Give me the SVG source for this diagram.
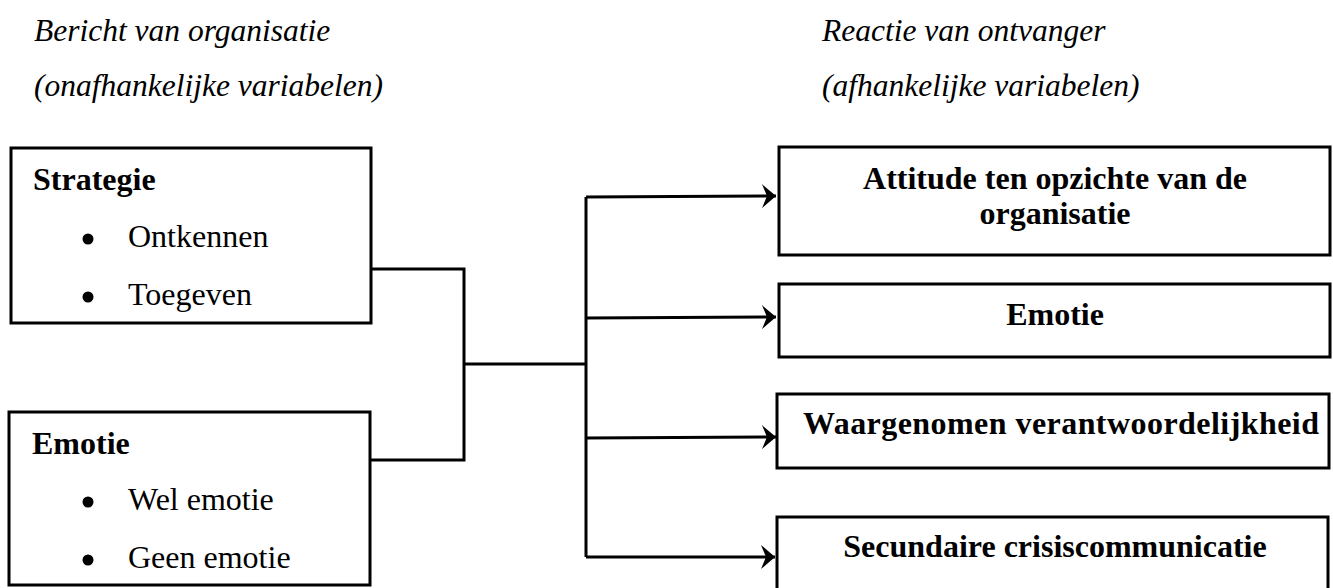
<svg xmlns="http://www.w3.org/2000/svg" width="1333" height="588" viewBox="0 0 1333 588">
<defs>
<style>
.box{fill:#fff;stroke:#000;stroke-width:3}
.t{font-family:"Liberation Serif","Times New Roman",serif;font-size:32px;fill:#000}
.b{font-weight:bold}
.i{font-style:italic;font-size:31.5px}
.c{text-anchor:middle}
.ln{fill:none;stroke:#000;stroke-width:3}
</style>
<marker id="ah" markerUnits="userSpaceOnUse" markerWidth="18" markerHeight="28" refX="15" refY="14" orient="auto">
<path d="M1,2 L15,14 L1,26 L6,14 Z" fill="#000"/>
</marker>
</defs>
<rect width="1333" height="588" fill="#fff"/>
<g id="titles">
<text class="t i" x="34" y="41">Bericht van organisatie</text>
<text class="t i" x="34" y="96">(onafhankelijke variabelen)</text>
<text class="t i" x="822" y="41">Reactie van ontvanger</text>
<text class="t i" x="822" y="96">(afhankelijke variabelen)</text>
</g>
<g id="connectors">
<polyline class="ln" points="371,269 464,269 464,460 370,460"/>
<line class="ln" x1="464" y1="364" x2="586" y2="364"/>
<line class="ln" x1="586" y1="197" x2="586" y2="557"/>
<line class="ln" x1="586" y1="197" x2="776" y2="196" marker-end="url(#ah)"/>
<line class="ln" x1="586" y1="318" x2="776" y2="317" marker-end="url(#ah)"/>
<line class="ln" x1="586" y1="438" x2="776" y2="437" marker-end="url(#ah)"/>
<line class="ln" x1="586" y1="557" x2="775" y2="557" marker-end="url(#ah)"/>
</g>
<g id="strategie">
<rect class="box" x="11" y="148" width="360" height="175"/>
<text class="t b" x="33" y="190">Strategie</text>
<circle cx="88" cy="239" r="5.5"/>
<text class="t" x="128" y="247">Ontkennen</text>
<circle cx="88" cy="297" r="5.5"/>
<text class="t" x="128" y="305">Toegeven</text>
</g>
<g id="emotie-in">
<rect class="box" x="9" y="412" width="361" height="173"/>
<text class="t b" x="32" y="454">Emotie</text>
<circle cx="88" cy="502" r="5.5"/>
<text class="t" x="128" y="510">Wel emotie</text>
<circle cx="88" cy="560" r="5.5"/>
<text class="t" x="128" y="568">Geen emotie</text>
</g>
<g id="attitude">
<rect class="box" x="779" y="147" width="551" height="108"/>
<text class="t b c" x="1055" y="189">Attitude ten opzichte van de</text>
<text class="t b c" x="1055" y="224">organisatie</text>
</g>
<g id="emotie-out">
<rect class="box" x="779" y="284" width="551" height="73"/>
<text class="t b c" x="1055" y="325">Emotie</text>
</g>
<g id="verantwoordelijkheid">
<rect class="box" x="777" y="394" width="552" height="74"/>
<text class="t b" x="803" y="434" textLength="516" lengthAdjust="spacing">Waargenomen verantwoordelijkheid</text>
</g>
<g id="secundaire">
<rect class="box" x="777" y="517" width="551" height="90"/>
<text class="t b c" x="1055" y="557">Secundaire crisiscommunicatie</text>
</g>
</svg>
